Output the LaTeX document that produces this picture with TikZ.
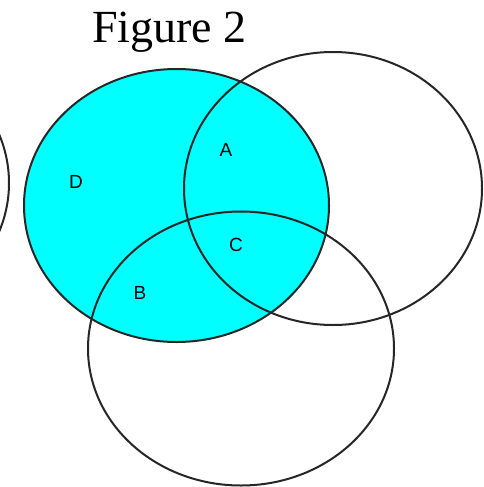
\documentclass[tikz,border=0pt]{standalone}
\usepackage{fontspec}
\setmainfont{Liberation Serif}
\newfontfamily\labelfont{Liberation Sans}
\usepackage{xcolor}
\usepackage{tikz}
\definecolor{setcyan}{RGB}{0,255,255}

\begin{document}
\begin{tikzpicture}[x=1pt, y=-1pt, line width=2pt,
    every node/.style={font=\labelfont\fontsize{19}{21}\selectfont, inner sep=0pt},
    setline/.style={draw=black!85}]
  \useasboundingbox (0,0) rectangle (483,487);
  % title
  \node[anchor=base, font=\fontsize{46}{50}\selectfont] (title) at (169.5,43) {Figure 2};
  % shaded set
  \fill[setcyan] (176.5,205.5) ellipse [x radius=152.5pt, y radius=136.5pt];
  % outlines
  \draw[setline] (-141,183) ellipse [x radius=150pt, y radius=136pt];
  \draw[setline] (176.5,205.5) ellipse [x radius=152.5pt, y radius=136.5pt];
  \draw[setline] (333,188.5) ellipse [x radius=149pt, y radius=136.5pt];
  \draw[setline] (241,348.5) ellipse [x radius=153pt, y radius=137pt];
  % region labels
  \node (labA) at (226,150) {A};
  \node (labD) at (76,182) {D};
  \node (labC) at (236,245) {C};
  \node (labB) at (140,293) {B};
\end{tikzpicture}
\end{document}
